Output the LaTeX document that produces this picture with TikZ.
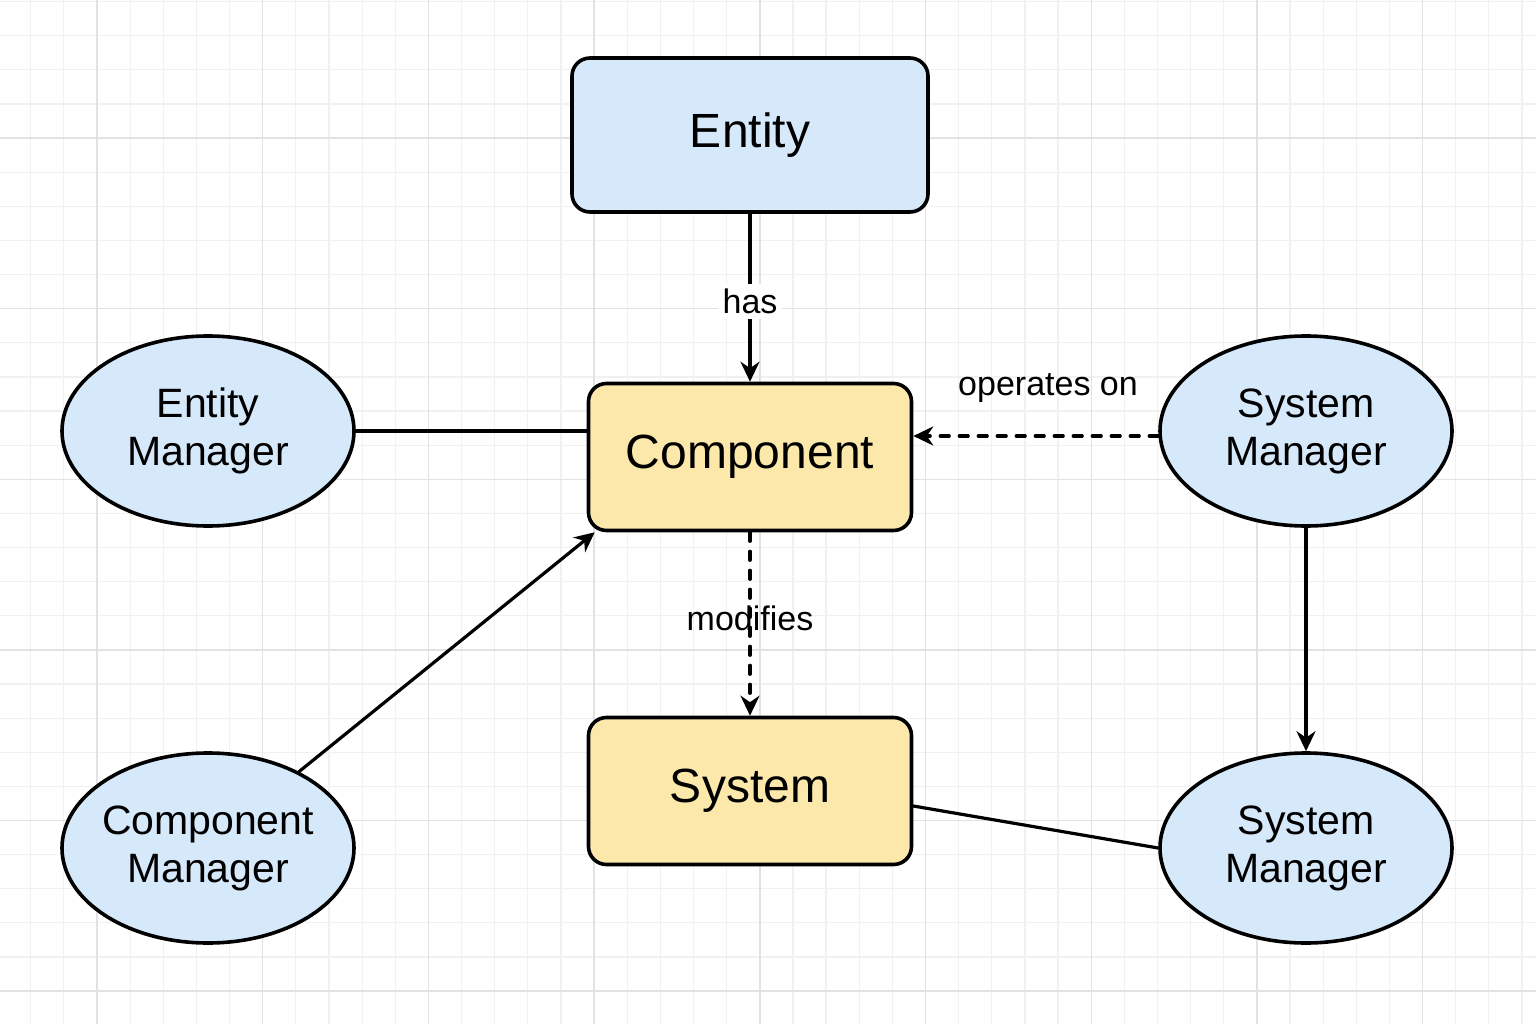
\documentclass[tikz,border=0pt]{standalone}
\usepackage{fontspec}
\setmainfont{Liberation Sans}
\usetikzlibrary{
    arrows.meta,     % Filled arrow heads on the connectors.
    shapes.geometric % Ellipses for the managers.
}

\definecolor{entityblue}{RGB}{214,233,250}
\definecolor{compyellow}{RGB}{252,232,170}
\definecolor{gridminor}{RGB}{241,241,241}
\definecolor{gridmajor}{RGB}{226,226,226}

\begin{document}
\begin{tikzpicture}[%
        x = 1pt,
        y = -1pt,
        line width = 3.2pt,
        line cap = round,
        box/.style = {draw, line width = 3.6pt, rounded corners = 18pt,
            inner sep = 0pt, font = \fontsize{48}{58}\selectfont},
        manager/.style = {ellipse, draw, line width = 3.6pt, fill = entityblue,
            minimum width = 292pt, minimum height = 190pt,
            inner xsep = -12pt, inner ysep = 0pt,
            align = center, font = \fontsize{41}{48}\selectfont},
        edgelabel/.style = {inner sep = 3pt, font = \fontsize{34}{40}\selectfont},
        arrowline/.style = {-{Stealth[length = 20pt, width = 19pt]}},
        dashline/.style = {dash pattern = on 9pt off 10pt}
    ]

        % Fix the page to the size of the picture.
        \useasboundingbox (0,0) rectangle (1536,1024);

        % Light grid paper in the background.
        \foreach \i in {0,...,45}
            \draw[gridminor, line width = 1.2pt] (30.7 + \i*33.14, 0) -- (30.7 + \i*33.14, 1024);
        \foreach \i in {0,...,29}
            \draw[gridminor, line width = 1.2pt] (0, 1.6 + \i*34.12) -- (1536, 1.6 + \i*34.12);
        \foreach \i in {0,...,8}
            \draw[gridmajor, line width = 1.4pt] (97 + \i*165.7, 0) -- (97 + \i*165.7, 1024);
        \foreach \i in {0,...,5}
            \draw[gridmajor, line width = 1.4pt] (0, 138 + \i*170.6) -- (1536, 138 + \i*170.6);

        % Centres of the boxes and ellipses.
        \coordinate (e) at (750, 135);
        \coordinate (c) at (750, 457);
        \coordinate (s) at (750, 791);
        \coordinate (em) at (208, 431);
        \coordinate (cm) at (208, 848);
        \coordinate (smt) at (1306, 431);
        \coordinate (smb) at (1306, 848);

        % The three boxes.
        \node[box, fill = entityblue, minimum width = 356pt, minimum height = 154pt]
            (entity) at (e) {Entity};
        \node[box, fill = compyellow, minimum width = 323pt, minimum height = 147pt]
            (component) at (c) {Component};
        \node[box, fill = compyellow, minimum width = 323pt, minimum height = 147pt]
            (system) at (s) {System};

        % The managers.
        \node[manager] (entitymgr) at (em) {Entity\\Manager};
        \node[manager] (compmgr) at (cm) {Component\\Manager};
        \node[manager] (sysmgrtop) at (smt) {System\\Manager};
        \node[manager] (sysmgrbot) at (smb) {System\\Manager};

        % Connect the boxes.
        \draw[arrowline] (entity) -- node[edgelabel, fill = white, inner sep = 5pt, pos = 0.52] {has} (component);
        \draw[arrowline, dashline] (component) -- node[edgelabel, pos = 0.47] {modifies} (system);

        % Connect the managers.
        \draw (entitymgr.east) -- (entitymgr.east -| component.west);
        \draw[arrowline] (compmgr.40) -- ([xshift = 8pt]component.south west);
        \draw[arrowline, dashline] ([yshift = -5pt]sysmgrtop.west)
            -- node[edgelabel, above = 29pt, pos = 0.45] {operates on}
            ([yshift = -5pt]sysmgrtop.west -| component.east);
        \draw[arrowline] (sysmgrtop) -- (sysmgrbot);
        \draw ([yshift = -15pt]system.east) -- (sysmgrbot.west);
    \end{tikzpicture}
\end{document}
